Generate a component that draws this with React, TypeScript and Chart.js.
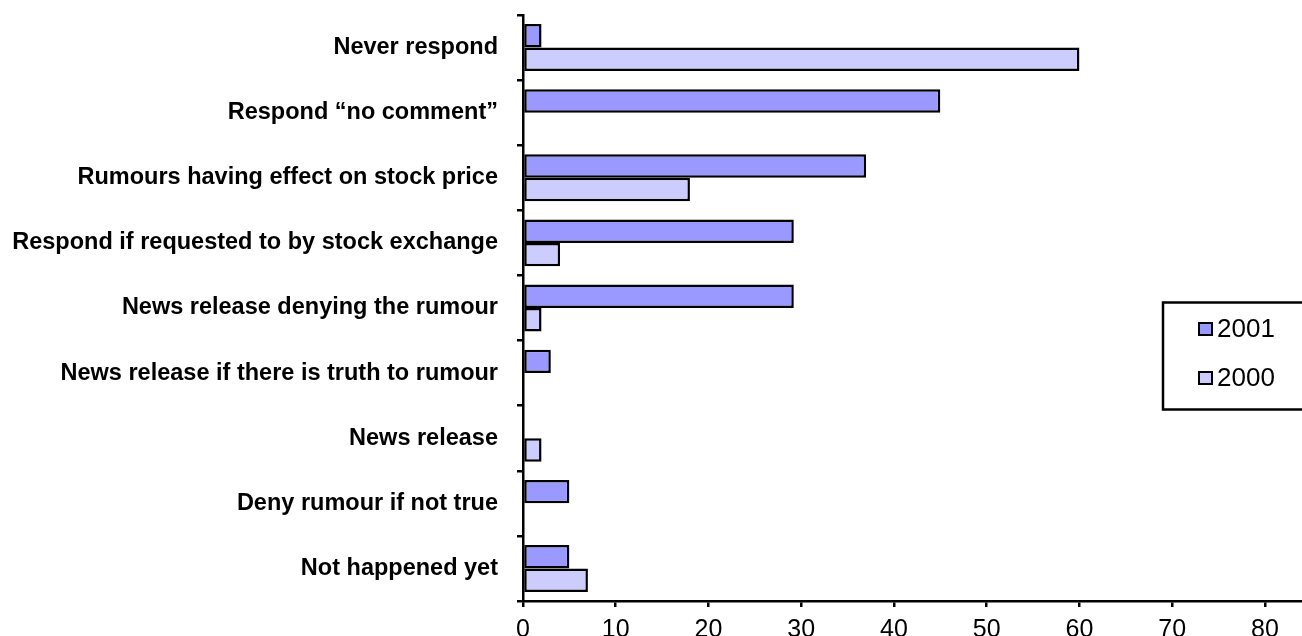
import React, { useEffect, useRef } from "react";
import { Chart, registerables } from "chart.js";

Chart.register(...registerables);

const categories = [
  "Never respond",
  "Respond \u201cno comment\u201d",
  "Rumours having effect on stock price",
  "Respond if requested to by stock exchange",
  "News release denying the rumour",
  "News release if there is truth to rumour",
  "News release",
  "Deny rumour if not true",
  "Not happened yet",
];
const series2001 = [2, 45, 37, 29.2, 29.2, 3, 0, 5, 5];
const series2000 = [60, 0, 18, 4, 2, 0, 2, 0, 7];
const seriesNames = ["2001", "2000"];
const seriesColors = ["#9999FF", "#CCCCFF"];
const xTickValues = [0, 10, 20, 30, 40, 50, 60, 70, 80];
const xMax = 84;

const FONT = '"Liberation Sans", Arial, sans-serif';

const legendPlugin = {
  id: "boxLegend",
  afterDraw(chart: any) {
    const ctx = chart.ctx;
    ctx.save();
    const x = 1163;
    const y = 302.5;
    const w = 200;
    const h = 107;
    ctx.fillStyle = "#ffffff";
    ctx.fillRect(x, y, w, h);
    ctx.lineWidth = 2.5;
    ctx.strokeStyle = "#000000";
    ctx.strokeRect(x, y, w, h);
    const items = chart.data.datasets;
    const rows = [329, 378];
    items.forEach((ds: any, i: number) => {
      const cy = rows[i];
      ctx.fillStyle = ds.backgroundColor;
      ctx.fillRect(1199, cy - 6, 13, 12);
      ctx.lineWidth = 2;
      ctx.strokeStyle = "#000";
      ctx.strokeRect(1199, cy - 6, 13, 12);
      ctx.fillStyle = "#000";
      ctx.font = `26px ${FONT}`;
      ctx.textBaseline = "middle";
      ctx.textAlign = "left";
      ctx.fillText(ds.label, 1217, cy + 1);
    });
    ctx.restore();
  },
};

export default function App() {
  const ref = useRef<HTMLCanvasElement>(null);

  useEffect(() => {
    document.body.style.margin = "0";
    const canvas = ref.current!;
    const chart = new Chart(canvas, {
      type: "bar",
      data: {
        labels: categories,
        datasets: [
          {
            label: seriesNames[0],
            data: series2001,
            backgroundColor: seriesColors[0],
            borderColor: "#000000",
            borderWidth: 2.5,
            borderSkipped: false,
            categoryPercentage: 0.72,
            barPercentage: 1.0,
          },
          {
            label: seriesNames[1],
            data: series2000,
            backgroundColor: seriesColors[1],
            borderColor: "#000000",
            borderWidth: 2.5,
            borderSkipped: false,
            categoryPercentage: 0.72,
            barPercentage: 1.0,
          },
        ],
      },
      options: {
        indexAxis: "y",
        animation: false,
        responsive: false,
        maintainAspectRatio: false,
        layout: { padding: { top: 15, right: 0, left: 0, bottom: 0 } },
        plugins: {
          legend: { display: false },
          tooltip: { enabled: false },
        },
        scales: {
          x: {
            type: "linear",
            min: 0,
            max: xMax,
            afterBuildTicks: (scale: any) => {
              scale.ticks = xTickValues.map((v) => ({ value: v }));
            },
            afterFit: (scale: any) => {
              scale.height = 35;
              scale.paddingLeft = 0;
              scale.paddingRight = 0;
            },
            ticks: {
              color: "#000",
              padding: 8,
              maxRotation: 0,
              autoSkip: false,
              font: { family: FONT, size: 25 },
            },
            grid: {
              display: true,
              drawOnChartArea: false,
              drawTicks: true,
              tickLength: 6,
              color: "#000",
              lineWidth: 2.5,
            },
            border: { display: true, color: "#000", width: 2.5 },
          },
          y: {
            type: "category",
            afterFit: (scale: any) => {
              scale.width = 523;
              scale.paddingTop = 0;
              scale.paddingBottom = 0;
            },
            ticks: {
              color: "#000",
              padding: 19,
              autoSkip: false,
              font: { family: FONT, size: 23.5, weight: "bold" },
            },
            grid: {
              display: true,
              offset: true,
              drawOnChartArea: false,
              drawTicks: true,
              tickLength: 6,
              color: "#000",
              lineWidth: 2.5,
            },
            border: { display: true, color: "#000", width: 2.5 },
          },
        },
      },
      plugins: [legendPlugin],
    });
    return () => chart.destroy();
  }, []);

  return (
    <div
      style={{
        position: "absolute",
        left: 0,
        top: 0,
        width: 1302,
        height: 636,
        overflow: "hidden",
        background: "#fff",
      }}
    >
      <canvas ref={ref} width={1302} height={636} style={{ display: "block" }} />
    </div>
  );
}
